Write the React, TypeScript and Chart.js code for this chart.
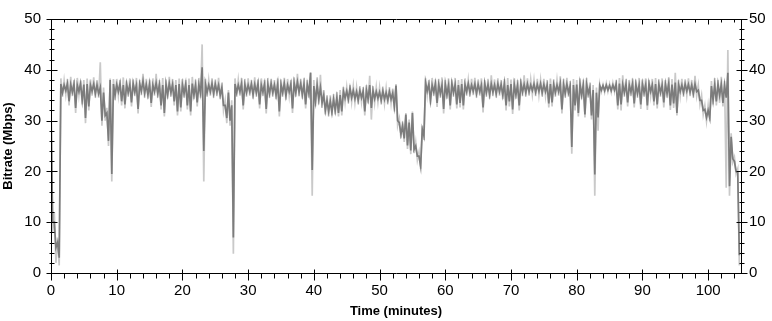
import React, { useEffect, useRef } from "react";
import { Chart, registerables } from "chart.js";

Chart.register(...registerables);

// Each bucket covers half a minute; "Hi"/"Lo" are the upper and lower excursions within that bucket.
const BUCKET_MINUTES = 0.5;

const darkHi = [
  32, 10, 6, 37.2, 37.0, 37.3, 37.1, 37.2, 37.0, 37.3,
  37.1, 37.2, 37.0, 37.2, 37.0, 36.5, 35.5, 31.5, 38.0, 37.2,
  37.1, 37.3, 37.0, 37.2, 37.1, 37.3, 37.0, 37.2, 37.8, 37.1,
  37.2, 37.0, 37.4, 37.1, 37.0, 37.2, 37.3, 37.1, 37.0, 37.2,
  37.1, 37.2, 37.0, 37.3, 37.0, 37.1, 40.5, 37.2, 37.0, 37.3,
  37.2, 37.0, 36.5, 33.0, 35.5, 33.0, 37.2, 37.0, 37.3, 37.1,
  37.0, 37.2, 37.1, 37.3, 37.0, 37.2, 37.1, 37.3, 37.0, 37.2,
  37.1, 37.3, 37.0, 37.2, 37.4, 37.6, 37.3, 37.2, 37.1, 39.4,
  36.8, 37.0, 36.5, 35.0, 34.0, 33.8, 34.2, 34.5, 35.0, 35.8,
  35.8, 36.4, 35.9, 35.7, 35.9, 35.8, 36.0, 37.0, 35.9, 35.7,
  35.6, 35.8, 35.5, 35.7, 35.4, 36.9, 29.6, 29.0, 31.2, 29.6,
  31.5, 25.0, 23.0, 28.3, 37.5, 37.2, 37.0, 37.3, 37.1, 37.0,
  37.2, 37.0, 37.3, 37.1, 37.0, 37.2, 37.1, 37.3, 37.0, 37.2,
  37.1, 37.0, 37.3, 37.1, 37.2, 37.0, 37.2, 37.1, 37.3, 37.0,
  37.2, 37.1, 37.0, 37.3, 37.1, 37.2, 37.0, 37.2, 37.1, 37.3,
  37.1, 37.0, 37.2, 37.1, 37.0, 37.3, 37.1, 37.2, 36.8, 37.0,
  37.1, 37.2, 37.0, 37.2, 36.5, 36.0, 35.5, 36.9, 36.9, 37.0,
  36.9, 37.0, 37.2, 37.3, 37.1, 37.2, 37.0, 37.3, 37.1, 37.0,
  37.2, 37.1, 37.3, 37.0, 37.2, 37.1, 37.0, 37.2, 37.3, 37.1,
  37.5, 37.1, 37.0, 37.2, 37.1, 37.0, 37.2, 36.0, 34.0, 32.2,
  32.0, 36.8, 37.0, 37.2, 37.1, 37.0, 39.4, 26.8, 22.0, 19.8,
];

const darkLo = [
  10, 5, 3, 35.5, 35.9, 33.8, 35.6, 32.5, 35.7, 34.0,
  30.5, 32.8, 35.8, 35.3, 35.3, 30.0, 31.0, 26.0, 19.5, 35.0,
  35.7, 33.8, 33.2, 35.5, 33.6, 35.6, 32.3, 35.8, 35.4, 35.1,
  33.5, 35.7, 35.3, 33.0, 31.5, 35.1, 35.5, 33.8, 31.8, 32.6,
  35.3, 33.0, 31.8, 35.0, 33.6, 35.4, 24.0, 35.5, 35.7, 35.3,
  35.6, 35.0, 33.0, 30.5, 30.0, 7.0, 35.5, 35.7, 33.0, 35.5,
  35.7, 35.1, 35.5, 33.2, 35.6, 32.3, 35.3, 35.5, 35.0, 31.8,
  35.5, 34.9, 35.7, 32.4, 35.5, 35.6, 35.1, 33.2, 35.3, 20.3,
  33.8, 34.2, 33.5, 32.0, 31.8, 31.6, 32.0, 31.5, 31.8, 34.4,
  34.2, 34.5, 34.3, 34.0, 34.5, 31.8, 34.2, 32.5, 34.3, 34.4,
  34.0, 34.2, 34.0, 34.2, 32.8, 30.0, 27.3, 26.5, 25.1, 24.1,
  24.3, 23.0, 21.0, 27.0, 35.8, 34.0, 35.6, 33.5, 35.3, 32.3,
  35.1, 33.0, 35.5, 33.2, 33.5, 33.0, 35.7, 35.5, 35.8, 35.3,
  35.7, 32.6, 35.5, 35.1, 35.6, 35.3, 35.7, 35.0, 33.0, 33.8,
  32.2, 35.1, 33.0, 35.6, 35.5, 35.7, 35.9, 35.6, 35.8, 35.5,
  35.7, 33.4, 33.6, 35.5, 35.7, 32.2, 35.3, 35.5, 24.8, 33.0,
  31.5, 35.0, 31.2, 35.3, 31.0, 19.4, 30.6, 36.0, 35.9, 36.0,
  35.9, 36.0, 33.0, 33.2, 35.5, 33.6, 35.6, 33.4, 35.3, 33.2,
  35.5, 33.0, 35.7, 33.8, 33.2, 35.5, 33.6, 35.3, 33.0, 33.4,
  31.5, 35.7, 35.5, 35.8, 35.6, 35.3, 35.7, 34.0, 32.0, 30.6,
  30.5, 34.0, 33.8, 35.0, 33.5, 34.5, 17.1, 22.5, 20.0, 3.5,
];

const lightHi = [
  34, 12, 7, 38.3, 37.9, 38.2, 38.6, 38.0, 38.4, 37.9,
  38.0, 38.3, 38.1, 38.5, 38.0, 41.5, 36.5, 32.5, 38.3, 38.2,
  38.2, 38.0, 38.5, 37.9, 38.3, 38.1, 38.4, 38.0, 39.2, 38.2,
  38.1, 38.3, 39.2, 38.0, 38.4, 38.1, 38.6, 38.2, 38.0, 38.3,
  38.2, 38.0, 38.3, 38.6, 38.1, 38.4, 45.0, 38.2, 38.0, 38.3,
  38.1, 38.4, 37.5, 34.0, 36.0, 34.0, 38.3, 38.0, 38.4, 38.2,
  38.3, 38.0, 38.5, 38.1, 38.3, 38.0, 38.4, 38.2, 38.0, 38.3,
  38.1, 38.4, 38.2, 38.0, 38.5, 39.2, 38.2, 38.4, 38.0, 39.5,
  38.0, 38.5, 39.0, 36.0, 35.0, 35.0, 35.2, 35.6, 36.0, 36.6,
  36.6, 37.0, 36.8, 36.5, 36.8, 36.6, 37.0, 38.8, 36.8, 36.6,
  36.5, 36.7, 36.4, 36.6, 36.3, 37.2, 30.4, 29.8, 31.5, 30.2,
  31.8, 25.8, 23.8, 29.0, 38.3, 38.0, 38.4, 38.1, 38.2, 38.5,
  38.0, 38.3, 38.1, 38.4, 38.0, 38.2, 38.3, 38.0, 38.2, 38.4,
  38.1, 38.3, 38.0, 38.2, 38.9, 38.1, 38.3, 38.0, 38.2, 38.4,
  38.1, 38.3, 38.0, 38.2, 38.9, 38.3, 38.1, 38.0, 38.2, 38.0,
  38.2, 38.0, 38.3, 38.1, 38.0, 38.7, 38.2, 38.4, 37.8, 38.2,
  38.0, 38.3, 38.1, 38.4, 37.5, 37.0, 36.5, 37.2, 37.1, 37.3,
  37.2, 37.4, 38.0, 38.4, 38.9, 38.2, 38.0, 38.3, 38.1, 38.4,
  38.1, 38.3, 38.0, 38.2, 38.4, 38.1, 38.3, 38.0, 38.5, 38.2,
  39.4, 38.0, 38.2, 38.1, 38.3, 38.0, 38.8, 37.0, 35.0, 33.0,
  33.0, 37.8, 38.4, 38.0, 38.6, 37.8, 43.9, 27.5, 22.8, 20.5,
];

const lightLo = [
  8, 2, 1.5, 34.7, 35.1, 33.0, 34.8, 31.5, 35.0, 33.2,
  29.5, 32.0, 34.9, 34.5, 34.5, 29.0, 30.0, 25.0, 18.0, 34.0,
  34.9, 33.0, 32.4, 34.7, 32.8, 34.8, 31.4, 35.0, 34.5, 34.3,
  32.7, 34.9, 34.5, 32.2, 30.8, 34.3, 34.7, 33.0, 31.0, 31.8,
  34.5, 32.2, 31.0, 34.2, 32.8, 34.5, 18.0, 34.7, 34.9, 34.5,
  34.8, 34.2, 32.0, 29.5, 29.0, 3.8, 34.7, 34.9, 32.2, 34.7,
  34.9, 34.3, 34.7, 32.4, 34.8, 31.4, 34.5, 34.7, 34.2, 30.8,
  34.7, 34.1, 34.9, 31.5, 34.7, 34.8, 34.3, 32.4, 34.5, 15.2,
  32.8, 33.2, 32.5, 31.2, 30.8, 31.0, 31.2, 30.8, 31.0, 33.6,
  33.4, 33.7, 33.5, 33.2, 33.7, 31.0, 33.4, 30.2, 33.5, 33.6,
  33.2, 33.4, 33.2, 33.4, 31.8, 29.0, 26.5, 25.8, 24.4, 23.4,
  23.6, 22.2, 20.5, 26.2, 35.0, 33.2, 34.8, 32.7, 34.5, 31.4,
  34.3, 32.2, 34.7, 32.4, 32.6, 32.2, 34.9, 34.7, 35.0, 34.5,
  34.9, 31.6, 34.7, 34.3, 34.8, 34.5, 34.9, 34.2, 32.0, 32.8,
  31.3, 34.3, 32.0, 34.8, 34.7, 34.9, 35.1, 34.8, 35.0, 34.7,
  34.9, 32.6, 32.8, 34.7, 34.9, 31.4, 34.5, 34.7, 23.5, 32.0,
  30.8, 34.2, 30.6, 34.5, 30.2, 15.2, 28.0, 35.7, 35.6, 35.7,
  35.6, 35.7, 32.2, 32.0, 34.7, 32.8, 34.8, 32.6, 34.5, 32.3,
  34.7, 32.1, 34.9, 33.0, 32.4, 34.7, 32.6, 34.5, 32.1, 32.5,
  31.0, 34.9, 34.7, 35.0, 34.8, 34.5, 34.9, 33.2, 31.2, 29.9,
  29.9, 33.2, 33.0, 33.5, 32.8, 16.8, 15.2, 21.8, 19.5, 1.5,
];

const xTickValues = [0, 10, 20, 30, 40, 50, 60, 70, 80, 90, 100];
const yTickValues = [0, 10, 20, 30, 40, 50];
const X_MAX = 105;
const Y_MAX = 50;

const DARK = "#7c7c7c";
const LIGHT = "#c9c9c9";

// Alternate each bucket's high and low excursion, the way the raw sample trace swings.
function zigzag(hi: number[], lo: number[]) {
  const pts: { x: number; y: number }[] = [];
  for (let i = 0; i < hi.length; i++) {
    const t = i * BUCKET_MINUTES;
    pts.push({ x: t, y: hi[i] });
    pts.push({ x: t + BUCKET_MINUTES / 2, y: lo[i] });
  }
  return pts;
}

const framePlugin = {
  id: "frameTicks",
  afterDraw(chart: any) {
    const { ctx, chartArea } = chart;
    const { left, right, top, bottom } = chartArea;
    const xs = chart.scales.x;
    const ys = chart.scales.y;
    const L = Math.round(left) + 0.5;
    const R = Math.round(right) + 0.5;
    const T = Math.round(top) + 0.5;
    const B = Math.round(bottom) + 0.5;
    ctx.save();
    ctx.strokeStyle = "#000";
    ctx.lineWidth = 1;
    ctx.beginPath();
    ctx.moveTo(L, T);
    ctx.lineTo(R, T);
    ctx.lineTo(R, B);
    ctx.lineTo(L, B);
    ctx.closePath();
    for (let v = 0; v <= Y_MAX; v += 2) {
      const y = Math.round(ys.getPixelForValue(v)) + 0.5;
      const major = v % 10 === 0;
      const a = major ? 5 : 2;
      ctx.moveTo(L - a, y);
      ctx.lineTo(L + a + 1, y);
      ctx.moveTo(R - a, y);
      ctx.lineTo(R + a + 1, y);
    }
    for (let v = 0; v <= X_MAX - 1; v += 2) {
      const x = Math.round(xs.getPixelForValue(v)) + 0.5;
      const major = v % 10 === 0;
      ctx.moveTo(x, B - (major ? 4 : 0));
      ctx.lineTo(x, B + (major ? 7 : 5));
      ctx.moveTo(x, T);
      ctx.lineTo(x, T + (major ? 5 : 3));
    }
    ctx.stroke();
    ctx.restore();
  },
};

export default function App() {
  const ref = useRef<HTMLCanvasElement | null>(null);
  useEffect(() => {
    document.body.style.margin = "0";
    const canvas = ref.current;
    if (!canvas) return;
    const tickFont = { family: "'Liberation Sans', Arial, sans-serif", size: 15 };
    const titleFont = { family: "'Liberation Sans', Arial, sans-serif", size: 13, weight: "bold" as const };
    const chart = new Chart(canvas, {
      type: "line",
      data: {
        datasets: [
          {
            label: "mean",
            data: zigzag(darkHi, darkLo),
            borderColor: DARK,
            borderWidth: 1.7,
            pointRadius: 0,
            tension: 0,
            fill: false,
            order: 0,
          },
          {
            label: "peak",
            data: zigzag(lightHi, lightLo),
            borderColor: LIGHT,
            borderWidth: 1.7,
            pointRadius: 0,
            tension: 0,
            fill: false,
            order: 1,
          },
        ],
      },
      options: {
        responsive: false,
        animation: false,
        devicePixelRatio: 1,
        parsing: false as any,
        normalized: true,
        layout: { padding: { top: 12, right: 0, bottom: 0, left: 0 } },
        plugins: { legend: { display: false }, tooltip: { enabled: false }, title: { display: false } },
        scales: {
          x: {
            type: "linear",
            min: 0,
            max: X_MAX,
            grid: { display: false, drawTicks: false, tickLength: 0 },
            border: { display: false },
            afterBuildTicks: (s: any) => {
              s.ticks = xTickValues.map((v) => ({ value: v }));
            },
            afterFit: (s: any) => {
              s.height = 48;
            },
            ticks: { color: "#000", font: tickFont, padding: 9, maxRotation: 0, autoSkip: false },
            title: { display: true, text: "Time (minutes)", color: "#000", font: titleFont, padding: { top: 0, bottom: 2 } },
          },
          y: {
            type: "linear",
            position: "left",
            min: 0,
            max: Y_MAX,
            grid: { display: false, drawTicks: false, tickLength: 0 },
            border: { display: false },
            afterBuildTicks: (s: any) => {
              s.ticks = yTickValues.map((v) => ({ value: v }));
            },
            afterFit: (s: any) => {
              s.width = 51;
            },
            ticks: { color: "#000", font: tickFont, padding: 10 },
            title: { display: true, text: "Bitrate (Mbps)", color: "#000", font: titleFont, padding: { top: 1, bottom: 0 } },
          },
          y2: {
            type: "linear",
            position: "right",
            display: true,
            min: 0,
            max: Y_MAX,
            grid: { display: false, drawTicks: false, tickLength: 0 },
            border: { display: false },
            afterBuildTicks: (s: any) => {
              s.ticks = yTickValues.map((v) => ({ value: v }));
            },
            afterFit: (s: any) => {
              s.width = 31;
            },
            ticks: { color: "#000", font: tickFont, padding: 8 },
          },
        },
      },
      plugins: [framePlugin],
    });
    return () => chart.destroy();
  }, []);
  return (
    <div style={{ width: 772, height: 321, background: "#fff" }}>
      <canvas ref={ref} width={772} height={321} style={{ display: "block" }} />
    </div>
  );
}
